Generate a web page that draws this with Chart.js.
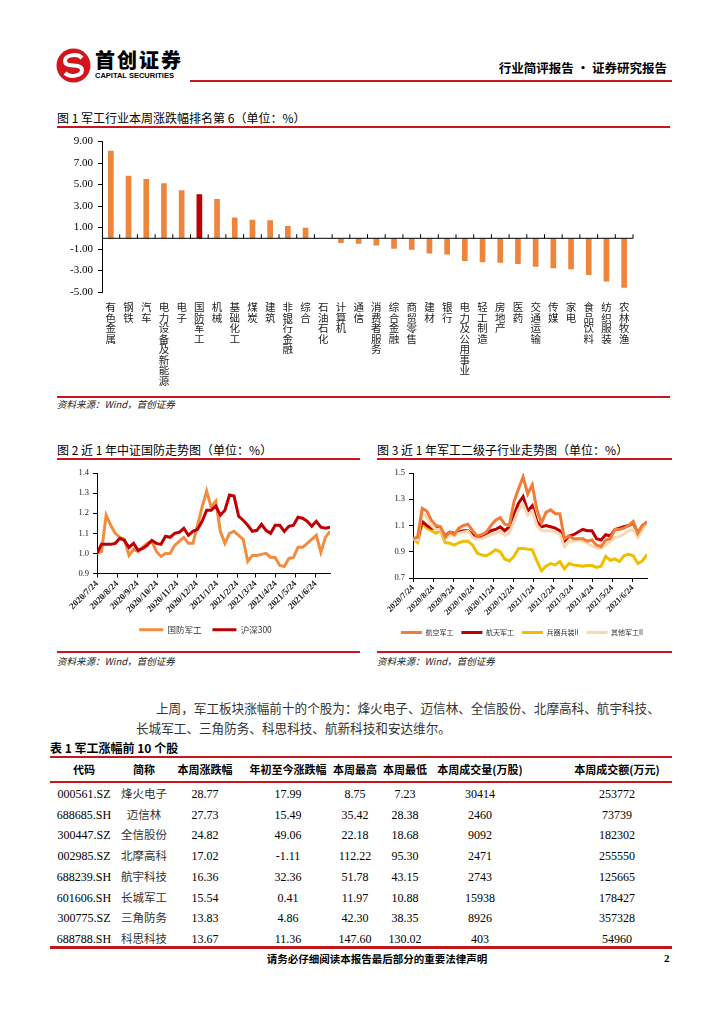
<!DOCTYPE html>
<html>
<head>
<meta charset="utf-8">
<script src="https://cdn.jsdelivr.net/npm/chart.js@4.4.0/dist/chart.umd.min.js"></script>
<style>
body { margin: 0; background: #fff; }
#page { position: relative; width: 724px; height: 1024px; overflow: hidden; font-family: 'Noto Sans CJK SC', sans-serif; color: #000; }
.t { position: absolute; white-space: nowrap; line-height: 1; }
.rule { position: absolute; background: #C8161D; }
.cap { font-size: 12px; }
.src { font-size: 9.5px; font-style: italic; color: #222; }
.box { position: absolute; }
.cell { position: absolute; width: 140px; margin-left: -70px; text-align: center; line-height: 1; white-space: nowrap; }
</style>
</head>
<body>
<div id="page">
  <svg class="box" style="left:56px;top:48px" width="35" height="35" viewBox="0 0 35 35">
    <circle cx="17.5" cy="17.5" r="17" fill="#D2141B"/>
    <path d="M26,10 C21,5 9,7 9,13 C9,17 14,17.5 17.5,17.5 C21,17.5 26,18 26,22 C26,28 14,30 9,25" stroke="#fff" stroke-width="4" fill="none"/>
  </svg>
  <div class="t" style="left:95px;top:50px;font-size:20px;font-weight:900;letter-spacing:2px;">首创证券</div>
  <div class="t" style="left:95px;top:72px;font-size:7.5px;font-weight:700;font-family:'Liberation Sans',sans-serif;">CAPITAL SECURITIES</div>
  <div class="rule" style="left:190px;top:80px;width:482px;height:2px;"></div>
  <div class="t" style="right:57px;top:62px;font-size:12.5px;font-weight:700;">行业简评报告 · 证券研究报告</div>

  <div class="t cap" style="left:57px;top:112px;">图 1 军工行业本周涨跌幅排名第 6（单位：%）</div>
  <div class="rule" style="left:57px;top:126px;width:613px;height:1.5px;"></div>
  <div class="box" style="left:57px;top:130px;width:613px;height:265px;"><canvas id="rankChart"></canvas></div>
  <div class="rule" style="left:57px;top:396px;width:613px;height:1.5px;"></div>
  <div class="t src" style="left:57px;top:400px;">资料来源：Wind，首创证券</div>

  <div class="t cap" style="left:57px;top:444px;">图 2 近 1 年中证国防走势图（单位：%）</div>
  <div class="rule" style="left:57px;top:458px;width:303px;height:1.5px;"></div>
  <div class="box" style="left:57px;top:462px;width:303px;height:182px;"><canvas id="defenseChart"></canvas></div>
  <div class="rule" style="left:57px;top:651px;width:303px;height:1.5px;"></div>
  <div class="t src" style="left:57px;top:657px;">资料来源：Wind，首创证券</div>

  <div class="t cap" style="left:377px;top:444px;">图 3 近 1 年军工二级子行业走势图（单位：%）</div>
  <div class="rule" style="left:377px;top:458px;width:295px;height:1.5px;"></div>
  <div class="box" style="left:377px;top:462px;width:295px;height:184px;"><canvas id="subChart"></canvas></div>
  <div class="rule" style="left:377px;top:651px;width:295px;height:1.5px;"></div>
  <div class="t src" style="left:377px;top:657px;">资料来源：Wind，首创证券</div>

  <div class="box" style="left:136px;top:698px;width:540px;font-size:12.6px;line-height:20px;color:#333;">
    <div style="text-indent:20px;white-space:nowrap;">上周，军工板块涨幅前十的个股为：烽火电子、迈信林、全信股份、北摩高科、航宇科技、</div>
    <div style="white-space:nowrap;">长城军工、三角防务、科思科技、航新科技和安达维尔。</div>
  </div>

  <div class="t" style="left:50px;top:742px;font-size:12px;font-weight:700;">表 1 军工涨幅前 10 个股</div>
  <div class="rule" style="left:50px;top:756px;width:622px;height:1.5px;"></div>
  <div id="table"></div>
  <div class="rule" style="left:50px;top:781px;width:622px;height:2px;"></div>
  <div class="rule" style="left:50px;top:946px;width:622px;height:2.5px;"></div>

  <div class="t" style="left:0;width:754px;text-align:center;top:954px;font-size:10.5px;font-weight:700;">请务必仔细阅读本报告最后部分的重要法律声明</div>
  <div class="t" style="left:664px;top:953px;font-size:11px;font-weight:700;font-family:'Liberation Serif',serif;">2</div>
</div>

<script>
// 图1 行业周涨跌幅
const industries = ['有色金属', '钢铁', '汽车', '电力设备及新能源', '电子', '国防军工', '机械', '基础化工', '煤炭', '建筑',
    '非银行金融', '综合', '石油石化', '计算机', '通信', '消费者服务', '综合金融', '商贸零售', '建材', '银行',
    '电力及公用事业', '轻工制造', '房地产', '医药', '交通运输', '传媒', '家电', '食品饮料', '纺织服装', '农林牧渔'];
const weeklyChange = [8.14, 5.83, 5.53, 5.13, 4.48, 4.11, 3.65, 1.93, 1.72, 1.69,
    1.14, 0.98, 0.03, -0.43, -0.52, -0.68, -0.98, -1.07, -1.41, -1.50,
    -2.12, -2.24, -2.27, -2.39, -2.64, -2.79, -2.89, -3.41, -4.03, -4.61];
const rankTicks = [9, 7, 5, 3, 1, -1, -3, -5];

// 图2 / 图3 周度数据，自 2020/7/24 起
const startDate = '2020/7/24';
const monthTicks = ['2020/7/24', '2020/8/24', '2020/9/24', '2020/10/24', '2020/11/24', '2020/12/24',
    '2021/1/24', '2021/2/24', '2021/3/24', '2021/4/24', '2021/5/24', '2021/6/24'];
const defenseIdx = [1.00, 1.01, 1.19, 1.14, 1.10, 1.08, 1.07, 0.99, 1.02, 1.01,
    1.03, 1.05, 1.06, 1.01, 0.985, 1.00, 1.00, 1.04, 1.06, 1.08,
    1.05, 1.05, 1.14, 1.23, 1.31, 1.23, 1.26, 1.11, 1.05, 1.10,
    1.11, 1.09, 1.07, 0.96, 0.99, 0.99, 0.995, 1.00, 0.98, 0.98,
    0.94, 0.935, 0.975, 0.98, 1.03, 1.03, 1.05, 1.07, 1.09, 1.005,
    1.08, 1.11];
const hs300Idx = [1.00, 1.045, 1.045, 1.045, 1.05, 1.075, 1.065, 1.03, 1.05, 1.015,
    1.025, 1.04, 1.065, 1.05, 1.045, 1.085, 1.08, 1.10, 1.105, 1.125,
    1.09, 1.11, 1.12, 1.16, 1.215, 1.215, 1.235, 1.19, 1.215, 1.29,
    1.285, 1.185, 1.165, 1.14, 1.11, 1.115, 1.145, 1.115, 1.10, 1.14,
    1.14, 1.11, 1.135, 1.14, 1.18, 1.175, 1.16, 1.135, 1.16, 1.13,
    1.125, 1.13];
const defenseTicks = [0.9, 1.0, 1.1, 1.2, 1.3, 1.4];

const aviation = [1.00, 1.01, 1.23, 1.21, 1.14, 1.10, 1.09, 1.01, 1.05, 1.03,
    1.08, 1.10, 1.11, 1.06, 1.02, 1.03, 1.05, 1.10, 1.14, 1.16,
    1.11, 1.10, 1.28, 1.38, 1.47, 1.34, 1.41, 1.22, 1.12, 1.20,
    1.22, 1.19, 1.19, 1.00, 1.02, 1.00, 1.00, 1.00, 0.98, 0.99,
    0.95, 0.94, 0.99, 1.00, 1.07, 1.07, 1.08, 1.10, 1.13, 1.04,
    1.10, 1.13];
const aerospace = [1.00, 1.00, 1.13, 1.10, 1.08, 1.08, 1.08, 1.02, 1.05, 1.04,
    1.05, 1.06, 1.06, 1.03, 1.01, 1.02, 1.04, 1.06, 1.07, 1.09,
    1.06, 1.09, 1.18, 1.27, 1.32, 1.21, 1.25, 1.13, 1.09, 1.10,
    1.09, 1.08, 1.06, 0.98, 1.02, 1.03, 1.05, 1.07, 1.06, 1.06,
    1.00, 0.99, 1.03, 1.02, 1.07, 1.08, 1.09, 1.10, 1.12, 1.04,
    1.10, 1.12];
const weapons = [1.00, 0.97, 1.11, 1.08, 1.06, 1.04, 1.06, 0.97, 0.965, 0.95,
    0.97, 0.98, 0.98, 0.95, 0.89, 0.875, 0.87, 0.89, 0.915, 0.90,
    0.845, 0.83, 0.865, 0.925, 0.925, 0.92, 0.915, 0.83, 0.755, 0.79,
    0.81, 0.80, 0.825, 0.77, 0.81, 0.80, 0.795, 0.79, 0.795, 0.795,
    0.78, 0.79, 0.865, 0.835, 0.845, 0.825, 0.87, 0.88, 0.87, 0.81,
    0.83, 0.88];
const otherMil = [1.00, 0.99, 1.20, 1.16, 1.10, 1.07, 1.07, 1.00, 1.025, 1.025,
    1.04, 1.05, 1.055, 1.01, 0.995, 1.00, 1.015, 1.03, 1.04, 1.055,
    1.025, 1.04, 1.13, 1.22, 1.26, 1.18, 1.21, 1.10, 1.06, 1.06,
    1.06, 1.05, 1.035, 0.94, 0.98, 0.98, 0.99, 0.98, 0.965, 0.945,
    0.93, 0.925, 0.95, 0.98, 1.01, 1.015, 1.035, 1.06, 1.07, 1.01,
    1.07, 1.13];
const subTicks = [0.7, 0.8, 0.9, 1.0, 1.1, 1.2, 1.3, 1.4, 1.5];

// 表1
const tableHeaders = ['代码', '简称', '本周涨跌幅', '年初至今涨跌幅', '本周最高', '本周最低', '本周成交量(万股)', '本周成交额(万元)'];
const tableRows = [
    ['000561.SZ', '烽火电子', '28.77', '17.99', '8.75', '7.23', '30414', '253772'],
    ['688685.SH', '迈信林', '27.73', '15.49', '35.42', '28.38', '2460', '73739'],
    ['300447.SZ', '全信股份', '24.82', '49.06', '22.18', '18.68', '9092', '182302'],
    ['002985.SZ', '北摩高科', '17.02', '-1.11', '112.22', '95.30', '2471', '255550'],
    ['688239.SH', '航宇科技', '16.36', '32.36', '51.78', '43.15', '2743', '125665'],
    ['601606.SH', '长城军工', '15.54', '0.41', '11.97', '10.88', '15938', '178427'],
    ['300775.SZ', '三角防务', '13.83', '4.86', '42.30', '38.35', '8926', '357328'],
    ['688788.SH', '科思科技', '13.67', '11.36', '147.60', '130.02', '403', '54960']
];

const serif = "'Liberation Serif', 'Noto Sans CJK SC', serif";
const cjk = "'Noto Sans CJK SC', sans-serif";
Chart.defaults.font.family = serif;
Chart.defaults.color = '#222';
Chart.defaults.animation = false;
Chart.defaults.plugins.tooltip.enabled = false;

function buildTable() {
    const cols = [84, 144, 205, 288, 355, 405, 480, 617];
    const box = document.getElementById('table');
    let html = '';
    tableHeaders.forEach((h, c) => {
        html += `<div class="cell" style="left:${cols[c]}px;top:764px;font-size:11px;font-weight:700;">${h}</div>`;
    });
    tableRows.forEach((row, r) => {
        const top = 788 + r * 20.7;
        row.forEach((v, c) => {
            const font = c === 1 ? "font-family:'Noto Sans CJK SC';font-size:11.5px;color:#333;" : "font-family:'Liberation Serif';font-size:12px;";
            html += `<div class="cell" style="left:${cols[c]}px;top:${top}px;${font}">${v}</div>`;
        });
    });
    box.innerHTML = html;
}

function dayOf(s) {
    const [y, m, d] = s.split('/').map(Number);
    const [y0, m0, d0] = startDate.split('/').map(Number);
    return Math.round((new Date(y, m - 1, d) - new Date(y0, m0 - 1, d0)) / 86400000);
}

function weekly(values) {
    return values.map((v, i) => ({ x: i * 7, y: v }));
}

// 零轴及分类刻度
const zeroAxis = {
    id: 'zeroAxis',
    afterDatasetsDraw(chart) {
        const xs = chart.scales.x, ys = chart.scales.y, c = chart.ctx;
        const y0 = ys.getPixelForValue(0);
        c.save();
        c.strokeStyle = '#000';
        c.lineWidth = 1;
        c.beginPath();
        c.moveTo(chart.chartArea.left, y0);
        c.lineTo(chart.chartArea.right, y0);
        for (let i = 1; i <= industries.length; i++) {
            const px = i < industries.length ? (xs.getPixelForValue(i - 1) + xs.getPixelForValue(i)) / 2 : chart.chartArea.right;
            c.moveTo(px, y0 - 4);
            c.lineTo(px, y0);
        }
        c.stroke();
        c.restore();
    }
};

// 图例整体右移
const legendShift = {
    id: 'legendShift',
    afterLayout(chart, args, opts) {
        const lg = chart.legend;
        if (lg && opts.dx) { lg.left += opts.dx; lg.right += opts.dx; }
    }
};

function renderRankChart() {
    new Chart(document.getElementById('rankChart'), {
        type: 'bar',
        data: {
            labels: industries.map(s => s.split('')),
            datasets: [{
                data: weeklyChange,
                backgroundColor: ctx => industries[ctx.dataIndex] === '国防军工' ? '#C00000' : '#F0843A',
                barPercentage: 0.32,
                categoryPercentage: 1.0
            }]
        },
        options: {
            responsive: true,
            maintainAspectRatio: false,
            layout: { padding: { top: 11, right: 37, left: 0, bottom: 0 } },
            plugins: { legend: { display: false } },
            scales: {
                x: {
                    grid: { display: false, drawTicks: false },
                    border: { display: false },
                    ticks: {
                        autoSkip: false, maxRotation: 0, minRotation: 0, padding: 10, color: '#222',
                        font: { family: cjk, size: 10.5, lineHeight: 1.0 }
                    },
                    afterFit: s => { s.height = 103; }
                },
                y: {
                    min: -5, max: 9,
                    afterBuildTicks: s => { s.ticks = rankTicks.map(v => ({ value: v })); },
                    ticks: { callback: v => v.toFixed(2), font: { size: 11 }, color: '#000', padding: 5 },
                    grid: { drawOnChartArea: false, tickLength: 4, tickColor: '#000' },
                    border: { color: '#000' },
                    afterFit: s => { s.width = 45; }
                }
            }
        },
        plugins: [zeroAxis]
    });
}

function lineLegend(size, box, gap) {
    return {
        position: 'bottom',
        labels: {
            boxWidth: box, boxHeight: 3, padding: gap, color: '#333',
            font: { family: cjk, size: size },
            sort: (a, b) => a.datasetIndex - b.datasetIndex,
            generateLabels: chart => Chart.defaults.plugins.legend.labels.generateLabels(chart)
                .map(it => Object.assign(it, { fillStyle: it.strokeStyle, lineWidth: 0 }))
        }
    };
}

function trendOptions(cfg) {
    return {
        responsive: true,
        maintainAspectRatio: false,
        layout: { padding: { top: 11, right: cfg.padRight, left: 0, bottom: 0 } },
        plugins: {
            legend: lineLegend(cfg.legendSize, cfg.legendBox, cfg.legendGap),
            legendShift: { dx: cfg.legendDx }
        },
        elements: { point: { radius: 0 }, line: { borderWidth: 3, tension: 0 } },
        scales: {
            x: {
                type: 'linear',
                min: 0, max: (defenseIdx.length - 1) * 7,
                afterBuildTicks: s => { s.ticks = monthTicks.map(d => ({ value: dayOf(d) })); },
                ticks: {
                    autoSkip: false, maxRotation: 45, minRotation: 45, padding: 1, color: '#222',
                    font: { size: cfg.xFont, weight: 'bold' },
                    callback: (v, i) => monthTicks[i]
                },
                grid: { drawOnChartArea: false, tickLength: 4, tickColor: '#000' },
                border: { color: '#000' },
                afterFit: s => { s.height = cfg.xHeight; }
            },
            y: {
                min: cfg.yTicks[0], max: cfg.yTicks[cfg.yTicks.length - 1],
                afterBuildTicks: s => { s.ticks = cfg.yTicks.map(v => ({ value: v })); },
                ticks: { callback: v => v.toFixed(1), font: { size: 8.5 }, color: '#222', padding: 4 },
                grid: { drawOnChartArea: false, tickLength: 4, tickColor: '#000' },
                border: { color: '#000' },
                afterFit: s => { s.width = cfg.yWidth; }
            }
        }
    };
}

function renderDefenseChart() {
    new Chart(document.getElementById('defenseChart'), {
        type: 'line',
        data: {
            datasets: [
                { label: '国防军工', data: weekly(defenseIdx), borderColor: '#F28C3E', backgroundColor: '#F28C3E', order: 1 },
                { label: '沪深300', data: weekly(hs300Idx), borderColor: '#C00000', backgroundColor: '#C00000', order: 0 }
            ]
        },
        options: trendOptions({
            yTicks: defenseTicks, yWidth: 40, xHeight: 41, padRight: 30,
            xFont: 9, legendSize: 8.5, legendBox: 24, legendGap: 11, legendDx: 12
        }),
        plugins: [legendShift]
    });
}

function renderSubChart() {
    new Chart(document.getElementById('subChart'), {
        type: 'line',
        data: {
            datasets: [
                { label: '航空军工', data: weekly(aviation), borderColor: '#F07D37', backgroundColor: '#F07D37', order: 0 },
                { label: '航天军工', data: weekly(aerospace), borderColor: '#C00000', backgroundColor: '#C00000', order: 2 },
                { label: '兵器兵装II', data: weekly(weapons), borderColor: '#EEBE00', backgroundColor: '#EEBE00', order: 3 },
                { label: '其他军工II', data: weekly(otherMil), borderColor: '#FAD9B2', backgroundColor: '#FAD9B2', order: 1 }
            ]
        },
        options: trendOptions({
            yTicks: subTicks, yWidth: 36, xHeight: 43, padRight: 25,
            xFont: 8.5, legendSize: 7, legendBox: 21, legendGap: 8, legendDx: 10
        }),
        plugins: [legendShift]
    });
}

buildTable();
renderRankChart();
renderDefenseChart();
renderSubChart();
</script>
</body>
</html>
